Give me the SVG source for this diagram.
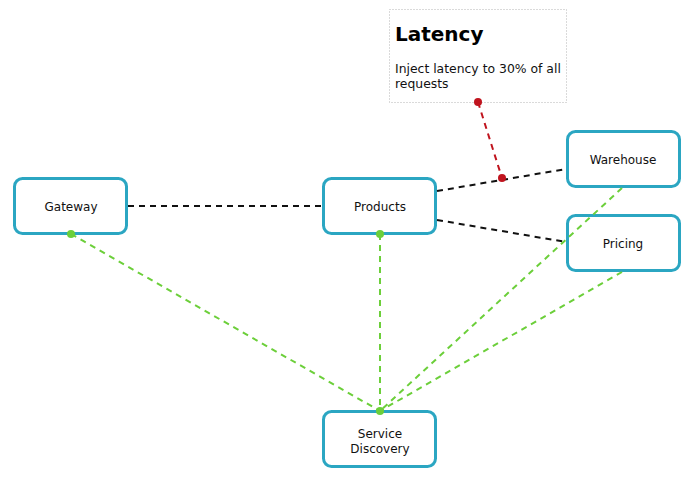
<svg xmlns="http://www.w3.org/2000/svg" width="700" height="481" viewBox="0 0 700 481">
<style>
.node rect{fill:#fff;stroke:#2ba6c2;stroke-width:3}
.lbl{font-family:"DejaVu Sans",Verdana,sans-serif;font-size:12px;fill:#111;text-anchor:middle}
.blk{stroke:#111;stroke-width:2;stroke-dasharray:6,5;fill:none}
.grn{stroke:#6ccf3a;stroke-width:2;stroke-dasharray:6,5;fill:none}
.red{stroke:#c0141e;stroke-width:2;stroke-dasharray:6,5;fill:none}
</style>
<rect width="700" height="481" fill="#fff"/>
<g id="latency">
<rect x="389.5" y="9.5" width="177" height="93" fill="#fff" stroke="#b5b5b5" stroke-width="1" stroke-dasharray="1,2"/>
<text x="395" y="41" font-family="DejaVu Sans,Verdana,sans-serif" font-size="20" font-weight="bold" fill="#000">Latency</text>
<text x="395" y="73" font-family="DejaVu Sans,Verdana,sans-serif" font-size="12.4" fill="#111">Inject latency to 30% of all</text>
<text x="395" y="88" font-family="DejaVu Sans,Verdana,sans-serif" font-size="12.4" fill="#111">requests</text>
</g>
<g id="gateway" class="node"><rect x="14.5" y="178.5" width="112" height="55" rx="8"/><text class="lbl" x="71" y="211">Gateway</text></g>
<g id="products" class="node"><rect x="323.5" y="178.5" width="112" height="55" rx="8"/><text class="lbl" x="380" y="211">Products</text></g>
<g id="warehouse" class="node"><rect x="567.5" y="131.5" width="112" height="55" rx="8"/><text class="lbl" x="623" y="164">Warehouse</text></g>
<g id="pricing" class="node"><rect x="567.5" y="215.5" width="112" height="55" rx="8"/><text class="lbl" x="623" y="248">Pricing</text></g>
<g id="discovery" class="node"><rect x="323.5" y="411.5" width="112" height="55" rx="8"/><text class="lbl" x="380" y="438">Service</text><text class="lbl" x="380" y="453">Discovery</text></g>
<g id="connectors">
<line class="blk" x1="128" y1="206" x2="322" y2="206"/>
<line class="blk" x1="437" y1="191" x2="566" y2="169"/>
<line class="blk" x1="437" y1="220" x2="566" y2="242"/>
<line class="grn" x1="71" y1="234" x2="380" y2="411"/>
<line class="grn" x1="380" y1="234" x2="380" y2="411"/>
<line class="grn" x1="622" y1="188" x2="380" y2="411"/>
<line class="grn" x1="622" y1="272" x2="380" y2="411"/>
<circle cx="71" cy="234" r="4" fill="#6ccf3a"/>
<circle cx="380" cy="234" r="4" fill="#6ccf3a"/>
<circle cx="380" cy="411" r="4" fill="#6ccf3a"/>
<line class="red" x1="478" y1="102" x2="502" y2="178"/>
<circle cx="478" cy="102" r="4" fill="#c0141e"/>
<circle cx="502" cy="178" r="4" fill="#c0141e"/>
</g>
</svg>
